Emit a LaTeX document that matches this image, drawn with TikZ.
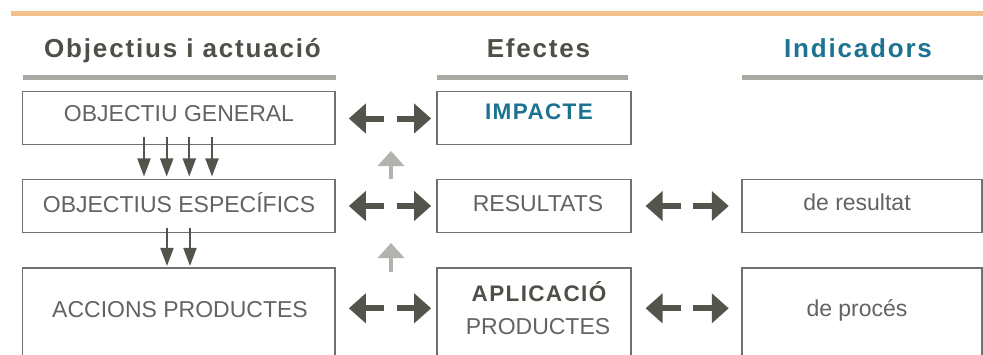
\documentclass[tikz,border=0pt]{standalone}
\usepackage{fontspec}
\setmainfont{Liberation Sans}
\newfontfamily\trk{Liberation Sans}[LetterSpace=7]
\newfontfamily\trkb{Liberation Sans}[LetterSpace=6]
\usetikzlibrary{arrows.meta}
\definecolor{orng}{HTML}{F2C08C}
\definecolor{hdark}{HTML}{4F4E47}
\definecolor{teal}{HTML}{1B7391}
\definecolor{bargray}{HTML}{A9A9A3}
\definecolor{boxline}{HTML}{707070}
\definecolor{boxtext}{HTML}{636361}
\definecolor{arrdark}{HTML}{55544C}
\definecolor{arrlight}{HTML}{B3B3AE}
\tikzset{
  boxnode/.style={draw=boxline, line width=1.1pt, inner sep=0pt, fill=white},
  txt/.style={inner sep=0pt, anchor=base, text=boxtext, font=\fontsize{23}{26}\selectfont},
  btxt/.style={inner sep=0pt, anchor=base, font=\trkb\bfseries\fontsize{22.5}{25}\selectfont},
  hdr/.style={inner sep=0pt, anchor=base, font=\trk\bfseries\fontsize{26}{30}\selectfont},
  bar/.style={draw=bargray, line width=5pt},
  fat/.style={draw=arrdark, line width=6pt, -{Triangle[length=17pt,width=29pt]}},
  thin/.style={draw=arrdark, line width=2pt, -{Triangle[length=18pt,width=13pt]}},
  upar/.style={draw=arrlight, line width=4pt, -{Triangle[length=15pt,width=26pt]}}
}
\begin{document}
\begin{tikzpicture}[x=1pt,y=-1pt]
\clip (0,0) rectangle (983,354);
\fill[white] (0,0) rectangle (983,354);
% top orange rule
\coordinate (oL) at (10.7,13.5);
\coordinate (oR) at (983,13.5);
\draw[orng, line width=5pt] (oL) -- (oR);
% headers
\node[hdr, text=hdark] (h1) at (182.5,57) {Objectius i actuació};
\node[hdr, text=hdark] (h2) at (538.5,57) {Efectes};
\node[hdr, text=teal] (h3) at (858,57) {Indicadors};
\coordinate (b1L) at (23.3,77); \coordinate (b1R) at (335.7,77);
\coordinate (b2L) at (437,77); \coordinate (b2R) at (628,77);
\coordinate (b3L) at (741.7,77); \coordinate (b3R) at (983,77);
\draw[bar] (b1L) -- (b1R);
\draw[bar] (b2L) -- (b2R);
\draw[bar] (b3L) -- (b3R);
% boxes
\node[boxnode, minimum width=312.5pt, minimum height=53pt] (og) at (178.75,118) {};
\node[boxnode, minimum width=194pt, minimum height=53pt] (imp) at (534,118) {};
\node[boxnode, minimum width=312.5pt, minimum height=53pt] (oe) at (178.75,206) {};
\node[boxnode, minimum width=194pt, minimum height=53pt] (res) at (534,206) {};
\node[boxnode, minimum width=240pt, minimum height=53pt] (ir) at (862,206) {};
\node[boxnode, minimum width=312.5pt, minimum height=112pt] (acc) at (178.75,324) {};
\node[boxnode, minimum width=194pt, minimum height=112pt] (apl) at (534,324) {};
\node[boxnode, minimum width=240pt, minimum height=112pt] (ip) at (862,324) {};
% texts
\node[txt] (t1) at (179,121) {OBJECTIU GENERAL};
\node[btxt, text=teal] (t2) at (539,119) {IMPACTE};
\node[txt] (t3) at (179,212) {OBJECTIUS ESPECÍFICS};
\node[txt] (t4) at (538,211) {RESULTATS};
\node[txt] (t5) at (857,210) {de resultat};
\node[txt] (t6) at (180,317.3) {ACCIONS PRODUCTES};
\node[btxt, text=hdark] (t7) at (539,301.7) {APLICACIÓ};
\node[txt] (t8) at (538,334) {PRODUCTES};
\node[txt] (t9) at (857,316.7) {de procés};
% horizontal fat arrows
\foreach \y/\a/\b in {118.5/og/imp, 206/oe/res, 308.3/acc/apl}{
  \coordinate (ml) at (384,\y);
  \coordinate (mr) at (396.7,\y);
  \draw[fat, shorten >=13.3pt] (ml) -- (\a.east |- ml);
  \draw[fat, shorten >=5.3pt] (mr) -- (\b.west |- mr);
}
\foreach \y/\a/\b in {206/res/ir, 308.3/apl/ip}{
  \coordinate (ml) at (681,\y);
  \coordinate (mr) at (693.3,\y);
  \draw[fat, shorten >=14pt] (ml) -- (\a.east |- ml);
  \draw[fat, shorten >=12.7pt] (mr) -- (\b.west |- mr);
}
% down arrows
\foreach \x in {144,166.7,189.3,212}{
  \coordinate (ds) at (\x,137.3);
  \draw[thin, shorten >=2.5pt] (ds) -- (ds |- oe.north);
}
\foreach \x in {167,190}{
  \coordinate (ds) at (\x,227.7);
  \draw[thin, shorten >=1.5pt] (ds) -- (ds |- acc.north);
}
% light up arrows
\coordinate (u1s) at (391,179);
\coordinate (u1e) at (391,151);
\draw[upar] (u1s) -- (u1e);
\coordinate (u2s) at (391,271.5);
\coordinate (u2e) at (391,243);
\draw[upar] (u2s) -- (u2e);
\end{tikzpicture}
\end{document}
